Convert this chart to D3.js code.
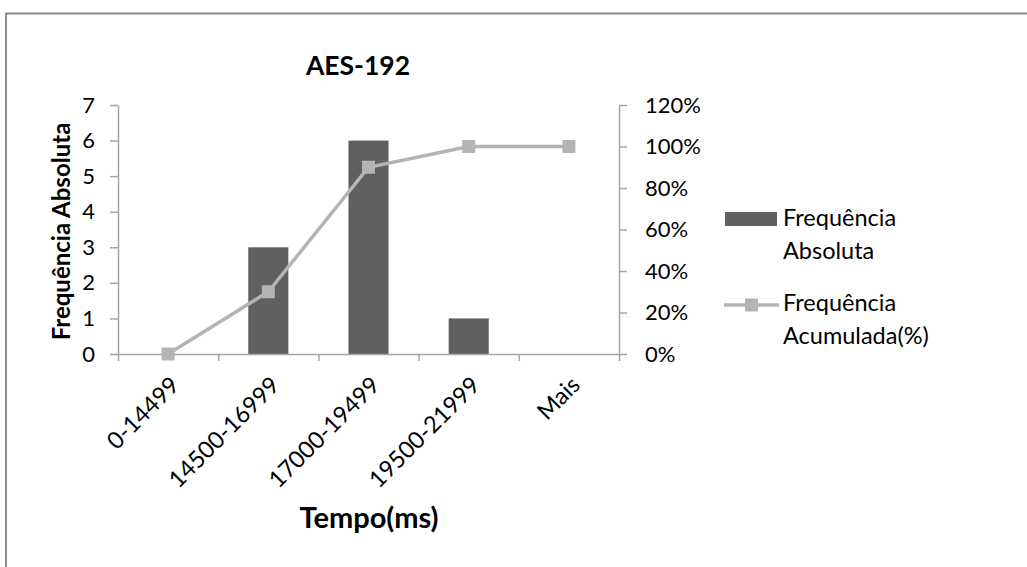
<!DOCTYPE html>
<html>
<head>
<meta charset="utf-8">
<script src="https://cdn.jsdelivr.net/npm/d3@7"></script>
<style>
  body { margin: 0; background: #fff; }
  svg text { font-family: Lato, "Open Sans", sans-serif; fill: #000; }
</style>
</head>
<body>
<svg id="chart"></svg>
<script>
// data
const categories = ['0-14499', '14500-16999', '17000-19499', '19500-21999', 'Mais'];
const freqAbsoluta = [0, 3, 6, 1, 0];
const freqAcumulada = [0, 0.3, 0.9, 1.0, 1.0];
const leftTicks = [0, 1, 2, 3, 4, 5, 6, 7];
const rightTicks = [0, 0.2, 0.4, 0.6, 0.8, 1.0, 1.2];

const width = 1027, height = 567;
const plot = { left: 118, right: 619, top: 105, bottom: 354 };
const barColor = '#606060';
const lineColor = '#b4b4b4';
const axisColor = '#a6a6a6';

const svg = d3.select('#chart')
  .attr('width', width)
  .attr('height', height);

// outer chart border
svg.append('rect')
  .attr('x', 6).attr('y', 13.5)
  .attr('width', width + 20).attr('height', height + 20)
  .attr('fill', 'none')
  .attr('stroke', '#8c8c8c')
  .attr('stroke-width', 2);

const x = d3.scaleBand()
  .domain(categories)
  .range([plot.left, plot.right])
  .paddingInner(0.6)
  .paddingOuter(0.3);

const xEdges = d3.scaleLinear()
  .domain([0, categories.length])
  .range([plot.left, plot.right]);

const y = d3.scaleLinear().domain([0, 7]).range([plot.bottom, plot.top]);
const y2 = d3.scaleLinear().domain([0, 1.2]).range([plot.bottom, plot.top]);

// left axis
const gLeft = svg.append('g')
  .attr('transform', `translate(${plot.left},0)`)
  .call(d3.axisLeft(y).tickValues(leftTicks).tickFormat(d3.format('d'))
    .tickSize(8).tickPadding(15).tickSizeOuter(0));

// right axis
const gRight = svg.append('g')
  .attr('transform', `translate(${plot.right},0)`)
  .call(d3.axisRight(y2).tickValues(rightTicks).tickFormat(d3.format('.0%'))
    .tickSize(8).tickPadding(18).tickSizeOuter(0));

[gLeft, gRight].forEach(g => {
  g.selectAll('path, line').attr('stroke', axisColor).attr('stroke-width', 1.5);
  g.selectAll('text').style('font-size', '22px').attr('fill', '#000');
});

// bars
svg.append('g')
  .selectAll('rect')
  .data(categories)
  .join('rect')
  .attr('x', d => x(d))
  .attr('y', (d, i) => y(freqAbsoluta[i]))
  .attr('width', x.bandwidth())
  .attr('height', (d, i) => y(0) - y(freqAbsoluta[i]))
  .attr('fill', barColor);

// bottom axis (ticks between categories)
const gBottom = svg.append('g')
  .attr('transform', `translate(0,${plot.bottom})`)
  .call(d3.axisBottom(xEdges).tickValues(d3.range(categories.length + 1))
    .tickFormat('').tickSize(7).tickSizeOuter(0));
gBottom.selectAll('path, line').attr('stroke', axisColor).attr('stroke-width', 1.5);

// rotated category labels
svg.append('g')
  .selectAll('text')
  .data(categories)
  .join('text')
  .attr('text-anchor', 'end')
  .attr('transform', d => `translate(${x(d) + x.bandwidth() / 2 + 1},${plot.bottom + 21}) rotate(-45)`)
  .attr('dy', '0.7em')
  .style('font-size', '23.5px')
  .text(d => d);

// cumulative line
const cx = d => x(d) + x.bandwidth() / 2;
const line = d3.line()
  .x((d, i) => cx(categories[i]))
  .y(d => y2(d));

svg.append('path')
  .datum(freqAcumulada)
  .attr('d', line)
  .attr('fill', 'none')
  .attr('stroke', lineColor)
  .attr('stroke-width', 3.5);

svg.append('g')
  .selectAll('rect')
  .data(freqAcumulada)
  .join('rect')
  .attr('x', (d, i) => cx(categories[i]) - 6.5)
  .attr('y', d => y2(d) - 6.5)
  .attr('width', 13)
  .attr('height', 13)
  .attr('fill', lineColor);

// titles
svg.append('text')
  .attr('x', 358).attr('y', 75)
  .attr('text-anchor', 'middle')
  .style('font-size', '26.5px').style('font-weight', 'bold')
  .text('AES-192');

svg.append('text')
  .attr('x', 369).attr('y', 528)
  .attr('text-anchor', 'middle')
  .style('font-size', '29px').style('font-weight', 'bold')
  .text('Tempo(ms)');

svg.append('text')
  .attr('transform', `translate(70,${(plot.top + plot.bottom) / 2 + 2}) rotate(-90)`)
  .attr('text-anchor', 'middle')
  .style('font-size', '24px').style('font-weight', 'bold')
  .text('Frequência Absoluta');

// legend
const legend = svg.append('g');
legend.append('rect')
  .attr('x', 725).attr('y', 212)
  .attr('width', 52).attr('height', 14)
  .attr('fill', barColor);
legend.append('text')
  .attr('x', 783).attr('y', 226)
  .style('font-size', '23.5px')
  .selectAll('tspan')
  .data(['Frequência', 'Absoluta'])
  .join('tspan')
  .attr('x', 783)
  .attr('dy', (d, i) => i === 0 ? 0 : 33)
  .text(d => d);

legend.append('line')
  .attr('x1', 724).attr('x2', 779)
  .attr('y1', 305).attr('y2', 305)
  .attr('stroke', lineColor)
  .attr('stroke-width', 3.5);
legend.append('rect')
  .attr('x', 745).attr('y', 298.5)
  .attr('width', 13).attr('height', 13)
  .attr('fill', lineColor);
legend.append('text')
  .attr('x', 783).attr('y', 311)
  .style('font-size', '23.5px')
  .selectAll('tspan')
  .data(['Frequência', 'Acumulada(%)'])
  .join('tspan')
  .attr('x', 783)
  .attr('dy', (d, i) => i === 0 ? 0 : 33)
  .text(d => d);
</script>
</body>
</html>
